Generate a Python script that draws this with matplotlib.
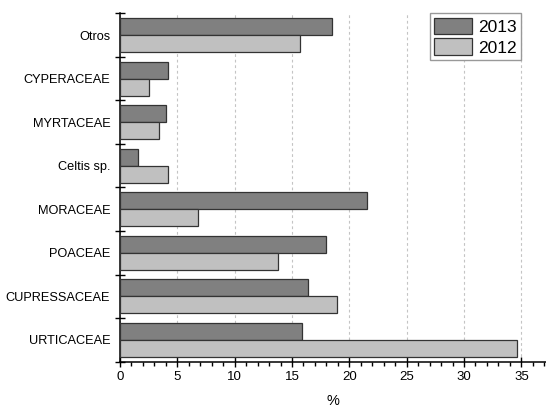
import numpy as np
import matplotlib
matplotlib.use("Agg")
import matplotlib.pyplot as plt
from matplotlib.ticker import MultipleLocator

plt.rcParams['font.family'] = ['Liberation Sans', 'DejaVu Sans']

# categories from bottom to top
taxa = ['URTICACEAE', 'CUPRESSACEAE', 'POACEAE', 'MORACEAE',
        'Celtis sp.', 'MYRTACEAE', 'CYPERACEAE', 'Otros']
pct_2013 = [15.9, 16.4, 18.0, 21.5, 1.6, 4.0, 4.15, 18.45]
pct_2012 = [34.6, 18.9, 13.8, 6.8, 4.2, 3.4, 2.5, 15.7]

fig = plt.figure(figsize=(5.46, 4.08), dpi=100)
ax = fig.add_axes([0.2198, 0.1135, 0.7802, 0.854])

y = np.arange(len(taxa))
h = 0.39
ax.barh(y + h / 2, pct_2013, height=h, color='#808080', edgecolor='#333333',
        linewidth=0.9, label='2013', zorder=3)
ax.barh(y - h / 2, pct_2012, height=h, color='#c0c0c0', edgecolor='#333333',
        linewidth=0.9, label='2012', zorder=3)

ax.set_xlim(0, 37.15)
ax.set_ylim(-0.5, len(taxa) - 0.5)

ax.set_yticks(y)
ax.set_yticklabels(taxa, fontsize=9.2)
ax.set_yticks(np.arange(-0.5, len(taxa)), minor=True)
ax.tick_params(axis='y', which='major', length=0, pad=7)
ax.tick_params(axis='y', which='minor', direction='inout', length=7, width=1)

ax.xaxis.set_major_locator(MultipleLocator(5))
ax.xaxis.set_minor_locator(MultipleLocator(1))
ax.tick_params(axis='x', which='major', direction='inout', length=7, width=1,
               labelsize=9.5, pad=3)
ax.tick_params(axis='x', which='minor', direction='out', length=3, width=1)
ax.set_xlabel('%', fontsize=10.5, labelpad=8)

ax.grid(axis='x', which='major', linestyle=(0, (2.5, 2.5)), color='#c4c4c4',
        linewidth=0.8, zorder=0)
ax.spines['top'].set_visible(False)
ax.spines['right'].set_visible(False)
ax.spines['left'].set_linewidth(1.1)
ax.spines['bottom'].set_linewidth(1.1)

leg = ax.legend(loc='upper right', bbox_to_anchor=(0.9415, 1.0), fontsize=12.5,
                fancybox=False, edgecolor='#999999', framealpha=1,
                handlelength=2.2, handleheight=1.1, labelspacing=0.2,
                borderpad=0.25, handletextpad=0.35, borderaxespad=0)
leg.get_frame().set_linewidth(1.0)

fig.savefig('out.png', dpi=100)
